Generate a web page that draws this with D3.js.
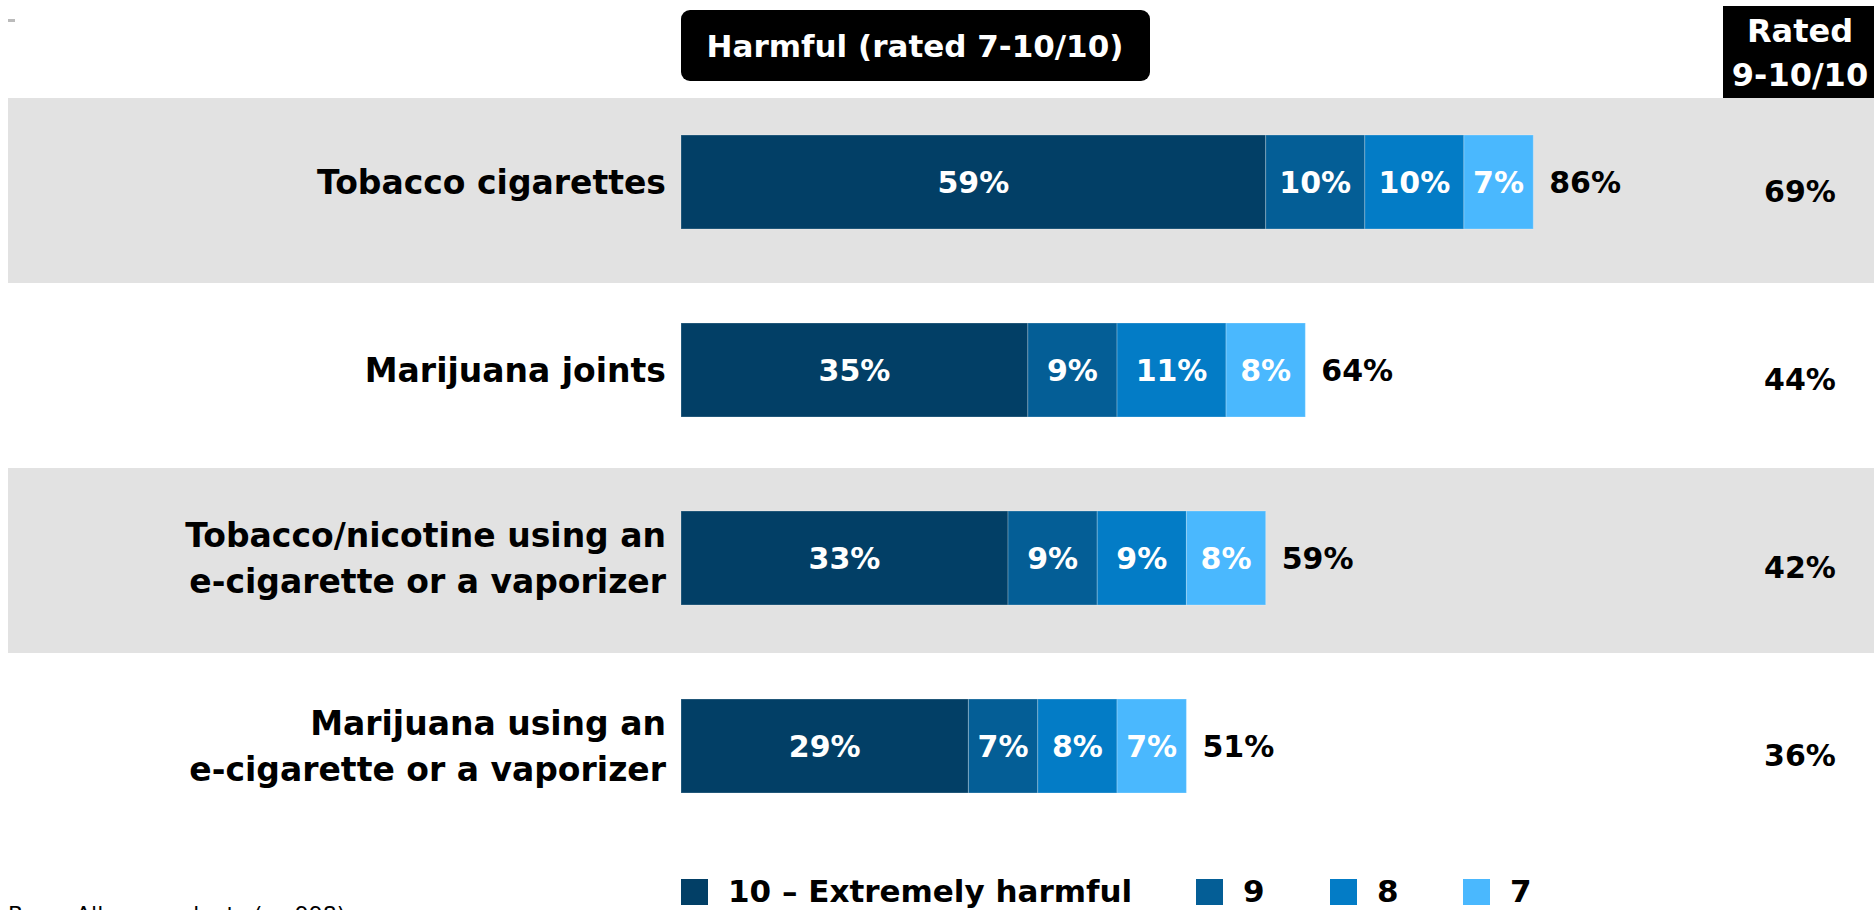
<!DOCTYPE html>
<html>
<head>
<meta charset="utf-8">
<script src="https://cdn.jsdelivr.net/npm/d3@7"></script>
<style>
  html, body { margin: 0; padding: 0; background: #fff; overflow: hidden; }
  svg { display: block; }
  text { font-family: "DejaVu Sans", "Lato", sans-serif; }
</style>
</head>
<body>
<svg id="chart" width="1874" height="910"></svg>
<script>
// ---- data ----
const categories = [
  ["Tobacco cigarettes"],
  ["Marijuana joints"],
  ["Tobacco/nicotine using an", "e-cigarette or a vaporizer"],
  ["Marijuana using an", "e-cigarette or a vaporizer"]
];
const seriesNames = ["10 \u2013 Extremely harmful", "9", "8", "7"];
const rated10 = [59, 35, 33, 29];
const rated9  = [10, 9, 9, 7];
const rated8  = [10, 11, 9, 8];
const rated7  = [7, 8, 8, 7];
const totalHarmful = [86, 64, 59, 51];
const rated9to10 = [69, 44, 42, 36];
const titleText = "Harmful (rated 7-10/10)";
const ratedHeader = ["Rated", "9-10/10"];
const baseNote = "Base: All respondents (n=998)";

// ---- styles ----
const colors = ["#023f66", "#045e96", "#037cc6", "#4ab8fe"];
const bandFill = "#e2e2e2";
const fontBold = 700;

const svg = d3.select("#chart");
const keys = categories.map((c, i) => i);
const seriesVals = [rated10, rated9, rated8, rated7];

const x = d3.scaleLinear().domain([0, 100]).range([681, 1672]);
const yBar = d3.scaleBand().domain(keys).range([88, 840]).paddingInner(0.5).paddingOuter(0.25);
const yBg = d3.scaleBand().domain(keys).range([98, 838]);

// background bands (alternating)
svg.append("g").selectAll("rect")
  .data(keys.filter(k => k % 2 === 0))
  .join("rect")
  .attr("x", 8).attr("width", 1874 - 8)
  .attr("y", k => yBg(k)).attr("height", yBg.bandwidth())
  .attr("fill", bandFill);

// stacked data
const rows = keys.map(k => {
  const r = { key: k };
  seriesNames.forEach((s, j) => r[s] = seriesVals[j][k]);
  return r;
});
const stacked = d3.stack().keys(seriesNames)(rows);

const segG = svg.append("g").selectAll("g")
  .data(stacked).join("g")
  .attr("fill", (d, i) => colors[i]);

segG.selectAll("rect")
  .data(d => d.map(p => ({ p, key: d.key })))
  .join("rect")
  .attr("x", d => x(d.p[0]))
  .attr("width", d => x(d.p[1]) - x(d.p[0]))
  .attr("y", d => yBar(d.p.data.key))
  .attr("height", yBar.bandwidth())
  .attr("stroke", "rgba(255,255,255,0.25)")
  .attr("stroke-width", 1);

segG.selectAll("text")
  .data(d => d.map(p => ({ p, key: d.key })))
  .join("text")
  .attr("x", d => (x(d.p[0]) + x(d.p[1])) / 2)
  .attr("y", d => yBar(d.p.data.key) + yBar.bandwidth() / 2)
  .attr("dy", "0.36em")
  .attr("text-anchor", "middle")
  .attr("fill", "#fff")
  .attr("font-size", 30)
  .attr("font-weight", fontBold)
  .text(d => (d.p[1] - d.p[0]) + "%");

// totals
svg.append("g").selectAll("text")
  .data(keys).join("text")
  .attr("x", k => x(d3.sum(seriesVals, s => s[k])) + 16)
  .attr("y", k => yBar(k) + yBar.bandwidth() / 2)
  .attr("dy", "0.36em")
  .attr("fill", "#000")
  .attr("font-size", 30)
  .attr("font-weight", fontBold)
  .text(k => totalHarmful[k] + "%");

// category labels
const catG = svg.append("g").selectAll("text")
  .data(keys).join("text")
  .attr("text-anchor", "end")
  .attr("font-size", 33)
  .attr("font-weight", fontBold)
  .attr("fill", "#000");
catG.each(function(k) {
  const lines = categories[k];
  const cy = yBar(k) + yBar.bandwidth() / 2;
  const lh = 46;
  d3.select(this).selectAll("tspan")
    .data(lines).join("tspan")
    .attr("x", 666)
    .attr("y", (l, i) => cy + (i - (lines.length - 1) / 2) * lh)
    .attr("dy", "0.36em")
    .text(l => l);
});

// rated 9-10 column
svg.append("g").selectAll("text")
  .data(keys).join("text")
  .attr("x", 1800)
  .attr("y", k => yBar(k) + yBar.bandwidth() / 2 + 9)
  .attr("dy", "0.36em")
  .attr("text-anchor", "middle")
  .attr("font-size", 30)
  .attr("font-weight", fontBold)
  .attr("fill", "#000")
  .text(k => rated9to10[k] + "%");

// title box
svg.append("rect")
  .attr("x", 681).attr("y", 10).attr("width", 469).attr("height", 71)
  .attr("rx", 9).attr("fill", "#000");
svg.append("text")
  .attr("x", 915).attr("y", 46).attr("dy", "0.36em")
  .attr("text-anchor", "middle").attr("fill", "#fff")
  .attr("font-size", 31).attr("font-weight", fontBold)
  .text(titleText);

// Rated header box
svg.append("rect")
  .attr("x", 1723).attr("y", 6).attr("width", 151).attr("height", 92)
  .attr("fill", "#000");
svg.append("text")
  .attr("text-anchor", "middle").attr("fill", "#fff")
  .attr("font-size", 32).attr("font-weight", fontBold)
  .selectAll("tspan").data(ratedHeader).join("tspan")
  .attr("x", 1800).attr("y", (d, i) => 30 + i * 44).attr("dy", "0.36em")
  .text(d => d);

// legend
const legendX = [681, 1196, 1330, 1463];
const lg = svg.append("g").selectAll("g")
  .data(seriesNames).join("g")
  .attr("transform", (d, i) => `translate(${legendX[i]},0)`);
lg.append("rect")
  .attr("x", 0).attr("y", 879).attr("width", 27).attr("height", 26)
  .attr("fill", (d, i) => colors[i]);
lg.append("text")
  .attr("x", 47).attr("y", 891).attr("dy", "0.36em")
  .attr("font-size", 31).attr("font-weight", fontBold).attr("fill", "#000")
  .text(d => d);

// base note (cut off at bottom, as in the source)
svg.append("text")
  .attr("x", 8).attr("y", 922)
  .attr("font-size", 22).attr("fill", "#000")
  .text(baseNote);

// small dash top-left
svg.append("rect")
  .attr("x", 8).attr("y", 19).attr("width", 7).attr("height", 3)
  .attr("fill", "#bbb");
</script>
</body>
</html>
